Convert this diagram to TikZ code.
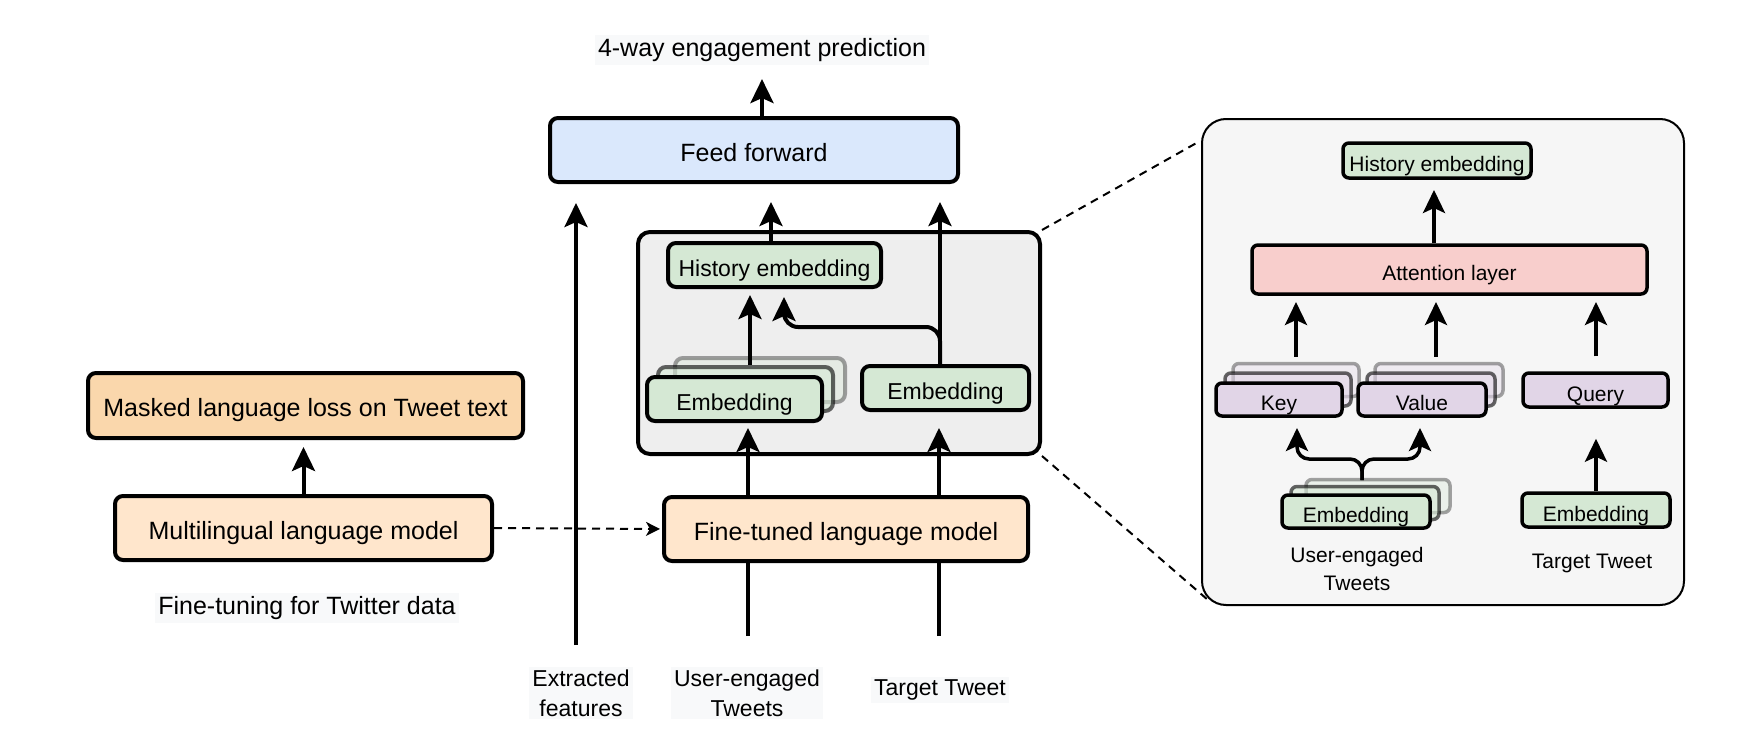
\documentclass[tikz,border=0pt]{standalone}
\usepackage{fontspec}
\setmainfont{Liberation Sans}
\usetikzlibrary{arrows.meta,calc}
\definecolor{ffblue}{HTML}{DAE8FC}
\definecolor{embgreen}{HTML}{D5E8D4}
\definecolor{orgA}{HTML}{FAD7AC}
\definecolor{orgB}{HTML}{FFE6CC}
\definecolor{attred}{HTML}{F8CECC}
\definecolor{kvpurple}{HTML}{E1D5E7}
\definecolor{modgray}{HTML}{EEEEEE}
\definecolor{panelgray}{HTML}{F6F6F6}
\definecolor{lblbg}{HTML}{F8F9FA}
\newcommand\fbig{\fontsize{12.5pt}{15pt}\selectfont}
\newcommand\fmid{\fontsize{11.5pt}{15pt}\selectfont}
\newcommand\fsml{\fontsize{10.5pt}{14pt}\selectfont}
\begin{document}
\begin{tikzpicture}[x=0.5pt,y=-0.5pt,
  box/.style={draw, line width=2pt, rounded corners=4pt, inner sep=0pt, align=center, text height=1.14em, text depth=0pt},
  rbox/.style={box, line width=1.75pt, rounded corners=3pt, font=\fsml},
  ghostA/.style={draw opacity=0.6, fill opacity=0.6},
  ghostB/.style={draw opacity=0.35, fill opacity=0.35},
  lbl/.style={align=center, inner sep=1.5pt, fill=lblbg},
  arr/.style={line width=2pt, -{Stealth[length=12pt,width=11.5pt,inset=2.5pt]}},
  rarr/.style={line width=1.75pt, -{Stealth[length=11.5pt,width=11pt,inset=2.5pt]}},
  plain/.style={line width=2pt},
  dasharr/.style={line width=1pt, dash pattern=on 4pt off 3pt, -{Stealth[length=7pt,width=7pt,inset=2pt]}},
  dashln/.style={line width=1pt, dash pattern=on 4pt off 3pt}]
\useasboundingbox (0,0) rectangle (1742,744);

% ---------------- left: fine-tuning ----------------
\node[box, fill=orgA, minimum width=217.5pt, minimum height=32.5pt, font=\fbig] (masked) at (305.5,405.5) {Masked language loss on Tweet text};
\node[box, fill=orgB, minimum width=188.5pt, minimum height=32pt, font=\fbig] (multi) at (303.5,528) {Multilingual language model};
\node[lbl, font=\fbig] (ftlbl) at (307,608) {Fine-tuning for Twitter data};
\draw[arr, shorten >=3.5pt] (multi.north) -- (multi.north |- masked.south);

% ---------------- middle ----------------
\node[box, fill=ffblue, minimum width=204pt, minimum height=32pt, font=\fbig] (ff) at (754,150) {Feed forward};
\node[lbl, font=\fbig] (pred) at (762,50) {4-way engagement prediction};
\draw[arr, shorten >=7pt] (ff.north -| pred.south) -- (pred.south);

% zoom panel (behind)
\node[box, fill=panelgray, line width=1pt, rounded corners=12pt, minimum width=241pt, minimum height=243pt] (panel) at (1443,362) {};

\node[box, fill=modgray, rounded corners=6pt, minimum width=201pt, minimum height=111pt] (mod) at (839,343) {};
\coordinate (zt) at (1200,141);
\coordinate (zb) at (1208,600);
\draw[dashln] (mod.north east) -- (zt);
\draw[dashln] (mod.south east) -- (zb);

\node[box, fill=embgreen, minimum width=106.5pt, minimum height=22pt, font=\fmid] (histL) at (774.5,265) {History embedding};
\node[box, fill=embgreen, ghostB, minimum width=85pt, minimum height=22pt] (embLB) at (760,380) {};
\node[box, fill=embgreen, ghostA, minimum width=87.5pt, minimum height=22pt] (embLM) at (745.5,389) {};
\node[box, fill=embgreen, minimum width=87.5pt, minimum height=22pt, font=\fmid] (embL) at (734.5,399) {Embedding};
\node[box, fill=embgreen, minimum width=83.5pt, minimum height=22pt, font=\fmid] (embR) at (945.5,388) {Embedding};

\node[box, fill=orgB, minimum width=182pt, minimum height=32pt, font=\fbig] (ft) at (846,529) {Fine-tuned language model};
\draw[dasharr, shorten >=1pt] (multi.east) -- (ft.west);

% columns
\coordinate (cE) at (576,203);
\coordinate (cH) at (771,202);
\coordinate (cT) at (940,202);
\coordinate (cS) at (750,295);
\coordinate (uTop) at (748,428);
\coordinate (tTop) at (939,428);
\coordinate (eBot) at (576,645);
\coordinate (uBot) at (748,636);
\coordinate (tBot) at (939,636);

\node[lbl, font=\fmid] (extlbl) at (581,693) {Extracted\\features};
\node[lbl, font=\fmid] (uelbl) at (747,693) {User-engaged\\Tweets};
\node[lbl, font=\fmid] (ttlbl) at (940,690) {Target Tweet};

\draw[arr] (eBot) -- (cE);
\draw[plain] (uBot) -- (uBot |- ft.south);
\draw[plain] (tBot) -- (tBot |- ft.south);
\draw[arr] (uTop |- ft.north) -- (uTop);
\draw[arr] (tTop |- ft.north) -- (tTop);
\draw[arr] (cS |- embLM.north) -- (cS);
\draw[arr] (cH |- histL.north) -- (cH);
\draw[arr] (cT |- embR.north) -- (cT);
\draw[arr, rounded corners=7pt] (cT |- embR.north) |- (784,327) -- (784,297);

% ---------------- right panel ----------------
\node[rbox, fill=embgreen, minimum width=94pt, minimum height=17.5pt] (histR) at (1437,160.5) {History embedding};
\node[rbox, fill=attred, minimum width=197.5pt, minimum height=24.5pt] (attn) at (1449.5,269.5) {Attention layer};
\node[rbox, fill=kvpurple, ghostB, minimum width=63pt, minimum height=16.5pt] (keyB) at (1296,380) {};
\node[rbox, fill=kvpurple, ghostA, minimum width=63pt, minimum height=16.5pt] (keyM) at (1288,389.5) {};
\node[rbox, fill=kvpurple, minimum width=63pt, minimum height=16.5pt] (key) at (1279,399.5) {Key};
\node[rbox, fill=kvpurple, ghostB, minimum width=64pt, minimum height=16.5pt] (valB) at (1439,380) {};
\node[rbox, fill=kvpurple, ghostA, minimum width=64pt, minimum height=16.5pt] (valM) at (1431,389.5) {};
\node[rbox, fill=kvpurple, minimum width=64pt, minimum height=16.5pt] (val) at (1422,399.5) {Value};
\node[rbox, fill=kvpurple, minimum width=72.5pt, minimum height=17pt] (query) at (1595.5,390) {Query};
\node[rbox, fill=embgreen, ghostB, minimum width=72pt, minimum height=16.5pt] (esB) at (1378,496) {};
\node[rbox, fill=embgreen, ghostA, minimum width=74pt, minimum height=16.5pt] (esM) at (1365,503) {};
\node[rbox, fill=embgreen, minimum width=74pt, minimum height=16.5pt] (es) at (1356,511.5) {Embedding};
\node[rbox, fill=embgreen, minimum width=74pt, minimum height=17pt] (embT) at (1596,510) {Embedding};
\node[align=center, font=\fsml, inner sep=1pt] (uelbl2) at (1357,569) {User-engaged\\Tweets};
\node[align=center, font=\fsml, inner sep=1pt] (ttlbl2) at (1592,563) {Target Tweet};

\coordinate (kx) at (1296,302);
\coordinate (vx) at (1436,302);
\coordinate (qx) at (1596,302);
\coordinate (hx) at (1434,190);
\coordinate (sp) at (1362,480);
\draw[rarr] (hx |- attn.north) -- (hx);
\draw[rarr, shorten <=2.5pt] (kx |- keyB.north) -- (kx);
\draw[rarr, shorten <=2.5pt] (vx |- valB.north) -- (vx);
\draw[rarr, shorten <=7.5pt] (qx |- query.north) -- (qx);
\draw[rarr, rounded corners=6pt] (sp) |- (1297,459) -- (1297,428);
\draw[rarr, rounded corners=6pt] (sp) |- (1420,459) -- (1420,428);
\draw[rarr, shorten >=15pt] (embT.north) -- (embT.north |- query.south);
\end{tikzpicture}
\end{document}
